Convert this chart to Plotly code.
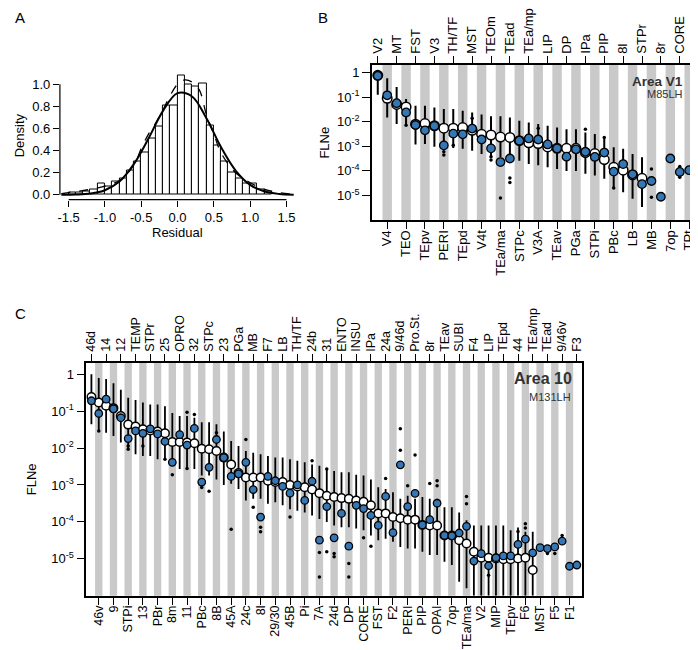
import plotly.graph_objects as go

W, H = 698, 650
FONT = "Arial, 'Liberation Sans', Helvetica, sans-serif"
BLUE = "#3577b5"
STRIPE = "#c9c9c9"

# ---------------- Panel A : residual histogram ----------------
a_bin_centers = [-1.45, -1.35, -1.25, -1.15, -1.05, -0.95, -0.85, -0.75, -0.65, -0.55,
                 -0.45, -0.35, -0.25, -0.15, -0.05, 0.05, 0.15, 0.25, 0.35, 0.45,
                 0.55, 0.65, 0.75, 0.85, 0.95, 1.05, 1.15, 1.25]
a_density = [0.02, 0.02, 0.03, 0.05, 0.10, 0.08, 0.12, 0.15, 0.22, 0.30,
             0.38, 0.51, 0.62, 0.81, 0.81, 1.08, 1.00, 0.98, 1.01, 0.63,
             0.45, 0.30, 0.20, 0.15, 0.10, 0.10, 0.05, 0.03]
a_norm_x = [-1.6, -1.4, -1.2, -1.0, -0.8, -0.6, -0.4, -0.2, 0.0, 0.2, 0.4, 0.6, 0.8, 1.0, 1.2, 1.4, 1.6]
a_norm_y = [0.0005, 0.003, 0.012, 0.042, 0.12, 0.28, 0.51, 0.76, 0.92, 0.89, 0.69, 0.43, 0.22, 0.09, 0.03, 0.008, 0.002]
a_kde_x = [-1.6, -1.4, -1.2, -1.0, -0.8, -0.6, -0.5, -0.4, -0.3, -0.2, -0.1, 0.0, 0.1, 0.2, 0.3, 0.4, 0.5, 0.6, 0.8, 1.0, 1.2, 1.4, 1.6]
a_kde_y = [0.01, 0.03, 0.05, 0.08, 0.13, 0.27, 0.42, 0.55, 0.65, 0.77, 0.9, 1.0, 1.04, 1.02, 0.95, 0.72, 0.55, 0.38, 0.2, 0.11, 0.05, 0.02, 0.005]
a_xticks = [-1.5, -1.0, -0.5, 0.0, 0.5, 1.0, 1.5]
a_xticklabels = ["-1.5", "-1.0", "-0.5", "0.0", "0.5", "1.0", "1.5"]
a_yticks = [0.0, 0.2, 0.4, 0.6, 0.8, 1.0]
a_yticklabels = ["0.0", "0.2", "0.4", "0.6", "0.8", "1.0"]

# ---------------- Panel B : Area V1 (M85LH) ----------------
b_areas = ["V2", "V4", "MT", "TEO", "FST", "TEpv", "V3", "PERI", "TH/TF", "TEpd", "MST", "V4t",
           "TEOm", "TEa/ma", "TEad", "STPc", "TEa/mp", "V3A", "LIP", "TEav", "DP", "PGa", "IPa",
           "STPi", "PIP", "PBc", "8l", "LB", "STPr", "MB", "8r", "7op", "CORE", "TPt"]
b_pred = [0.78, 0.09, 0.051, 0.04, 0.008, 0.0085, 0.0069, 0.0055, 0.0055, 0.0058, 0.0045, 0.0031,
          0.0029, 0.0024, 0.0023, 0.0017, 0.0014, 0.0013, 0.00095, 0.00083, 0.00083, 0.00083, 0.00056,
          0.00051, 0.00029, 0.00014, 0.000107, 0.000069, 0.00005, None, None, None, None, None]
b_obs = [0.75, 0.12, 0.057, 0.024, 0.0074, 0.0045, 0.0068, 0.0011, 0.0033, 0.0031, 0.0053, 0.0019,
         0.00083, 0.00023, 0.00032, 0.0017, 0.0021, 0.0019, 0.0012, 0.00083, 0.00038, 0.00076, 0.0006,
         0.00037, 0.00056, 0.000094, 0.00019, 0.000073, 0.000029, 0.000039, 0.0000089, 0.00032,
         0.000091, 0.000107]
b_lo = [0.125, 0.015, 0.0081, 0.008, 0.0012, 0.00125, 0.00097, 0.0008, 0.00085, 0.0008, 0.00066, 0.00049,
        0.00036, 0.00036, 0.00031, 0.00026, 0.00019, 0.00017, 0.00014, 0.00012, 0.0001, 0.0001, 0.000076,
        0.000065, 0.000048, 0.000022, 0.0000137, 0.0000073, 0.0000034, None, None, None, None, None]
b_hi = [1.0, 0.59, 0.26, 0.085, 0.045, 0.045, 0.038, 0.033, 0.033, 0.028, 0.024, 0.02,
        0.017, 0.017, 0.015, 0.011, 0.0094, 0.0081, 0.0069, 0.0059, 0.005, 0.005, 0.0037,
        0.0032, 0.002, 0.00091, 0.0008, 0.00049, 0.00036, None, None, None, None, None]
b_dot_area = ["TEO", "PERI", "PERI", "TH/TF", "MST", "TEOm", "TEOm", "TEa/ma", "TEad", "TEad",
              "V3A", "IPa", "PIP", "PBc", "MB", "MB", "CORE", "CORE"]
b_dot_val = [0.0073, 0.0006, 0.00045, 0.0011, 0.0138, 0.00038, 0.00028, 0.0000079, 0.000052, 0.000034,
             0.0055, 0.005, 0.0023, 0.00002, 0.00012, 0.0000085, 0.00015, 0.000055]

# ---------------- Panel C : Area 10 (M131LH) ----------------
c_areas = ["46d", "46v", "14", "9", "12", "STPi", "TEMP", "13", "STPr", "PBr", "25", "8m", "OPRO", "11",
           "32", "PBc", "STPc", "8B", "23", "45A", "PGa", "24c", "MB", "8l", "F7", "29/30", "LB", "45B",
           "TH/TF", "Pi", "24b", "7A", "31", "24d", "ENTO", "DP", "INSU", "CORE", "IPa", "FST", "24a",
           "F2", "9/46d", "PERI", "Pro.St.", "PIP", "8r", "OPAI", "TEav", "7op", "SUBI", "TEa/ma", "F4",
           "V2", "LIP", "MIP", "TEpd", "TEpv", "44", "F6", "TEa/mp", "MST", "TEad", "F5", "9/46v", "F1", "F3"]
c_pred = [0.24, 0.17, 0.14, 0.12, 0.073, 0.043, 0.038, 0.032, 0.03, 0.028, 0.025, 0.0145, 0.0145, 0.014,
          0.0135, 0.0096, 0.0093, 0.0083, 0.0055, 0.0036, 0.0021, 0.0016, 0.0016, 0.0016, 0.0013, 0.0012,
          0.0012, 0.001, 0.00091, 0.00087, 0.00075, 0.0006, 0.00051, 0.00047, 0.00044, 0.00042, 0.00038,
          0.00035, 0.00028, 0.00017, 0.00017, 0.000135, 0.000126, 0.000115, 0.000115, 0.000083, 0.00008,
          0.00008, 0.000043, 0.000043, 0.000032, 0.000026, 0.0000155, 0.0000107, 0.0000107, 0.0000102,
          0.0000098, 0.0000098, 0.0000102, 0.0000107, 0.000005, None, None, None, None, None, None]
c_obs = [0.19, 0.086, 0.21, 0.115, 0.066, 0.018, 0.029, 0.025, 0.033, 0.024, 0.015, 0.0041, 0.023, 0.012,
         0.034, 0.0012, 0.003, 0.017, 0.0055, 0.0017, 0.002, 0.0041, 0.00075, 0.000135, 0.0017, 0.0013,
         0.00091, 0.0006, 0.001, 0.00038, 0.00126, 0.000032, 0.00026, 0.000037, 0.00017, 0.000022, 0.00028,
         0.00023, 0.00015, 0.00008, 0.00049, 0.000051, 0.0035, 0.00026, 0.00059, 0.000083, 0.000115,
         0.00032, 0.000043, 0.000042, 0.00005, 0.000076, 0.0000087, 0.0000138, 0.0000065, 0.0000107,
         0.000012, 0.000012, 0.0000245, 0.000034, 0.0000145, 0.00002, 0.000019, 0.000021, 0.00003,
         0.0000063, 0.0000068]
c_lo = [0.044, 0.029, 0.026, 0.021, 0.014, 0.0093, 0.0068, 0.0061, 0.0061, 0.005, 0.005, 0.0033, 0.0027,
        0.0027, 0.0027, 0.0018, 0.0018, 0.0014, 0.001, 0.00107, 0.00078, 0.00038, 0.00042, 0.00042, 0.00031,
        0.00034, 0.00028, 0.00022, 0.0002, 0.00018, 0.00015, 0.00012, 0.0001, 0.00008, 0.000072, 0.000072,
        0.000066, 0.000059, 0.000043, 0.000032, 0.000035, 0.000029, 0.000021, 0.000019, 0.000019,
        0.0000155, 0.0000126, 0.0000126, 0.0000083, 0.0000068, 0.0000024, 0.0000016, 0.000001, 0.000001,
        0.000001, 0.000001, 0.000001, 0.000001, 0.000001, 0.000001, 0.000001, None, None, None, None, None, None]
c_hi = [1.0, 0.78, 0.74, 0.57, 0.38, 0.23, 0.2, 0.17, 0.15, 0.15, 0.135, 0.089, 0.073, 0.073, 0.066, 0.05,
        0.05, 0.044, 0.028, 0.0155, 0.0114, 0.0083, 0.0075, 0.0068, 0.0061, 0.0055, 0.0055, 0.005, 0.0045,
        0.0041, 0.0036, 0.0033, 0.0027, 0.0024, 0.0022, 0.0022, 0.0019, 0.0018, 0.0014, 0.00087, 0.00078,
        0.00063, 0.00042, 0.00051, 0.00042, 0.00047, 0.00042, 0.00042, 0.00025, 0.00025, 0.00018, 0.00011,
        0.00008, 0.00008, 0.00008, 0.00008, 0.00008, 0.000059, 0.00007, 0.000054, 0.000054,
        None, None, None, None, None, None]
c_dot_area = ["46v", "STPi", "STPi", "13", "25", "8m", "11", "11", "32", "PBc", "PBc", "STPc", "8B", "45A",
              "24c", "MB", "8l", "8l", "45B", "24b", "7A", "7A", "31", "31", "24d", "24d", "24d", "DP", "DP",
              "CORE", "IPa", "24a", "9/46d", "9/46d", "PERI", "Pro.St.", "8r", "OPAI", "OPAI", "TEa/ma",
              "TEa/ma", "LIP", "44", "F6", "F6", "TEad", "F5", "9/46v"]
c_dot_val = [0.029, 0.0114, 0.0093, 0.0114, 0.005, 0.0019, 0.093, 0.0028, 0.081, 0.001, 0.00085, 0.00068,
             0.026, 0.000063, 0.017, 0.00025, 0.000072, 0.000054, 0.000135, 0.0045, 0.0000148, 0.0000032,
             0.0027, 0.0000155, 0.000039, 0.0000139, 0.0000113, 0.0000075, 0.0000032, 0.000037, 0.000022,
             0.0015, 0.033, 0.0087, 0.00095, 0.0065, 0.0011, 0.0013, 0.00095, 0.00049, 0.00031, 0.0000036,
             0.000055, 0.000089, 0.000068, 0.0000139, 0.0000139, 0.000043]

log_ticks = [1, 1e-1, 1e-2, 1e-3, 1e-4, 1e-5]
log_ticklabels = ["1", "10<sup>-1</sup>", "10<sup>-2</sup>", "10<sup>-3</sup>", "10<sup>-4</sup>", "10<sup>-5</sup>"]


def px(x):
    return x / W


def py(y):
    return 1 - y / H


fig = go.Figure()

# ---- Panel A traces ----
fig.add_trace(go.Bar(x=a_bin_centers, y=a_density, width=0.1,
                     marker=dict(color="white", line=dict(color="black", width=1)),
                     xaxis="x", yaxis="y", showlegend=False, hoverinfo="skip"))
fig.add_trace(go.Scatter(x=a_kde_x, y=a_kde_y, mode="lines",
                         line=dict(color="black", width=1.3, dash="dash", shape="spline"),
                         xaxis="x", yaxis="y", showlegend=False, hoverinfo="skip"))
fig.add_trace(go.Scatter(x=a_norm_x, y=a_norm_y, mode="lines",
                         line=dict(color="black", width=2, shape="spline"),
                         xaxis="x", yaxis="y", showlegend=False, hoverinfo="skip"))


def add_panel(areas, pred, obs, lo, hi, dot_area, dot_val, xa, ya, xtop, wsize, bsize, lw):
    idx = list(range(len(areas)))
    pos = {a: i for i, a in enumerate(areas)}
    ex, ey = [], []
    for i in idx:
        if lo[i] is not None:
            ex += [i, i, None]
            ey += [lo[i], hi[i], None]
    fig.add_trace(go.Scatter(x=ex, y=ey, mode="lines", line=dict(color="black", width=lw),
                             xaxis=xa, yaxis=ya, showlegend=False, hoverinfo="skip"))
    fig.add_trace(go.Scatter(x=[pos[a] for a in dot_area], y=dot_val, mode="markers",
                             marker=dict(color="black", size=3.5), xaxis=xa, yaxis=ya,
                             showlegend=False, hoverinfo="skip"))
    fig.add_trace(go.Scatter(x=idx, y=pred, mode="markers",
                             marker=dict(color="white", size=wsize, line=dict(color="black", width=1.5)),
                             xaxis=xa, yaxis=ya, showlegend=False, hoverinfo="skip"))
    fig.add_trace(go.Scatter(x=idx, y=obs, mode="markers",
                             marker=dict(color=BLUE, size=bsize, line=dict(color="black", width=1.3)),
                             xaxis=xa, yaxis=ya, showlegend=False, hoverinfo="skip"))
    # invisible trace so that the top category axis is drawn
    fig.add_trace(go.Scatter(x=[0], y=[1], mode="markers", marker=dict(opacity=0), xaxis=xtop, yaxis=ya,
                             showlegend=False, hoverinfo="skip"))


add_panel(b_areas, b_pred, b_obs, b_lo, b_hi, b_dot_area, b_dot_val, "x2", "y2", "x3", 9.5, 8.5, 2)
add_panel(c_areas, c_pred, c_obs, c_lo, c_hi, c_dot_area, c_dot_val, "x4", "y4", "x5", 8.5, 7.5, 1.8)

shapes = []
for areas, xr, yr in [(b_areas, "x2", "y2 domain"), (c_areas, "x4", "y4 domain")]:
    for i in range(1, len(areas), 2):
        shapes.append(dict(type="rect", xref=xr, yref=yr, x0=i - 0.5, x1=i + 0.5, y0=0, y1=1,
                           fillcolor=STRIPE, line=dict(width=0), layer="below"))
# panel A detached (R-style) axes
shapes.append(dict(type="line", xref="x", yref="y domain", x0=a_xticks[0], x1=a_xticks[-1], y0=0, y1=0,
                   line=dict(color="black", width=1.2)))
shapes.append(dict(type="line", xref="x domain", yref="y", x0=0, x1=0, y0=a_yticks[0], y1=a_yticks[-1],
                   line=dict(color="black", width=1.2)))

tickfont = dict(family=FONT, size=13, color="black")
catfont_b = dict(family=FONT, size=13, color="black")
catfont_c = dict(family=FONT, size=12.5, color="black")

b_range = [-0.62, len(b_areas) - 1 + 0.62]
c_range = [-0.7, len(c_areas) - 1 + 0.7]
b_dom_x = [px(364), px(689)]
b_dom_y = [py(213.3), py(57.3)]
c_dom_x = [px(76.7), px(575.3)]
c_dom_y = [py(590.5), py(356.7)]

common_cat = dict(showgrid=False, zeroline=False, ticks="outside", ticklen=7, tickwidth=1.2, tickcolor="black",
                  showline=True, linecolor="black", linewidth=1.5, tickangle=-90, ticklabeloverflow="allow")
common_log = dict(type="log", showgrid=False, zeroline=False, ticks="outside", ticklen=8, tickwidth=1.2,
                  tickcolor="black", showline=True, linecolor="black", linewidth=1.5, mirror=True,
                  tickvals=log_ticks, ticktext=log_ticklabels, tickfont=tickfont)

fig.update_layout(
    width=W, height=H, margin=dict(l=0, r=0, t=0, b=0),
    paper_bgcolor="white", plot_bgcolor="white", showlegend=False, bargap=0,
    font=dict(family=FONT, color="black"),
    shapes=shapes,
    xaxis=dict(domain=[px(50.2), px(286.8)], anchor="y", range=[-1.62, 1.62], showgrid=False, zeroline=False,
               showline=False, ticks="outside", ticklen=6, tickwidth=1.2, tickcolor="black",
               tickvals=a_xticks, ticktext=a_xticklabels, tickfont=tickfont),
    yaxis=dict(domain=[py(192.5), py(62.8)], anchor="x", range=[-0.043, 1.125], showgrid=False, zeroline=False,
               showline=False, ticks="outside", ticklen=6, tickwidth=1.2, tickcolor="black",
               tickvals=a_yticks, ticktext=a_yticklabels, tickfont=tickfont),
    xaxis2=dict(domain=b_dom_x, anchor="y2", range=b_range, tickvals=list(range(1, len(b_areas), 2)),
                ticktext=b_areas[1::2], tickfont=catfont_b, ticklabelstandoff=-4, **common_cat),
    xaxis3=dict(overlaying="x2", side="top", anchor="y2", range=b_range, tickvals=list(range(0, len(b_areas), 2)),
                ticktext=b_areas[0::2], tickfont=catfont_b, **common_cat),
    yaxis2=dict(domain=b_dom_y, anchor="x2", range=[-6.01, 0.31], **common_log),
    xaxis4=dict(domain=c_dom_x, anchor="y4", range=c_range, tickvals=list(range(1, len(c_areas), 2)),
                ticktext=c_areas[1::2], tickfont=catfont_c, ticklabelstandoff=-4, **common_cat),
    xaxis5=dict(overlaying="x4", side="top", anchor="y4", range=c_range, tickvals=list(range(0, len(c_areas), 2)),
                ticktext=c_areas[0::2], tickfont=catfont_c, **common_cat),
    yaxis4=dict(domain=c_dom_y, anchor="x4", range=[-6.0, 0.3], **common_log),
)

ann = []


def text(x, y, s, size=13, xanchor="center", yanchor="middle", angle=0, color="black"):
    ann.append(dict(x=px(x), y=py(y), xref="paper", yref="paper", text=s, showarrow=False,
                    xanchor=xanchor, yanchor=yanchor, textangle=angle,
                    font=dict(family=FONT, size=size, color=color)))


text(3, 10, "A", 15, xanchor="left")
text(315, 10, "B", 15)
text(3, 307, "C", 15, xanchor="left")
text(9, 128, "Density", 13, angle=-90)
text(168.5, 226, "Residual", 13)
text(316, 135, "FLNe", 13, angle=-90)
text(22, 473.6, "FLNe", 13, angle=-90)
text(679, 73.5, "<b>Area V1</b>", 13.5, xanchor="right", color="#333333")
text(679, 86.5, "M85LH", 11, xanchor="right", color="#333333")
text(567, 372.7, "<b>Area 10</b>", 16, xanchor="right", color="#333333")
text(566, 390.5, "M131LH", 11, xanchor="right", color="#333333")
fig.update_layout(annotations=ann)

fig.write_html("out.html")
